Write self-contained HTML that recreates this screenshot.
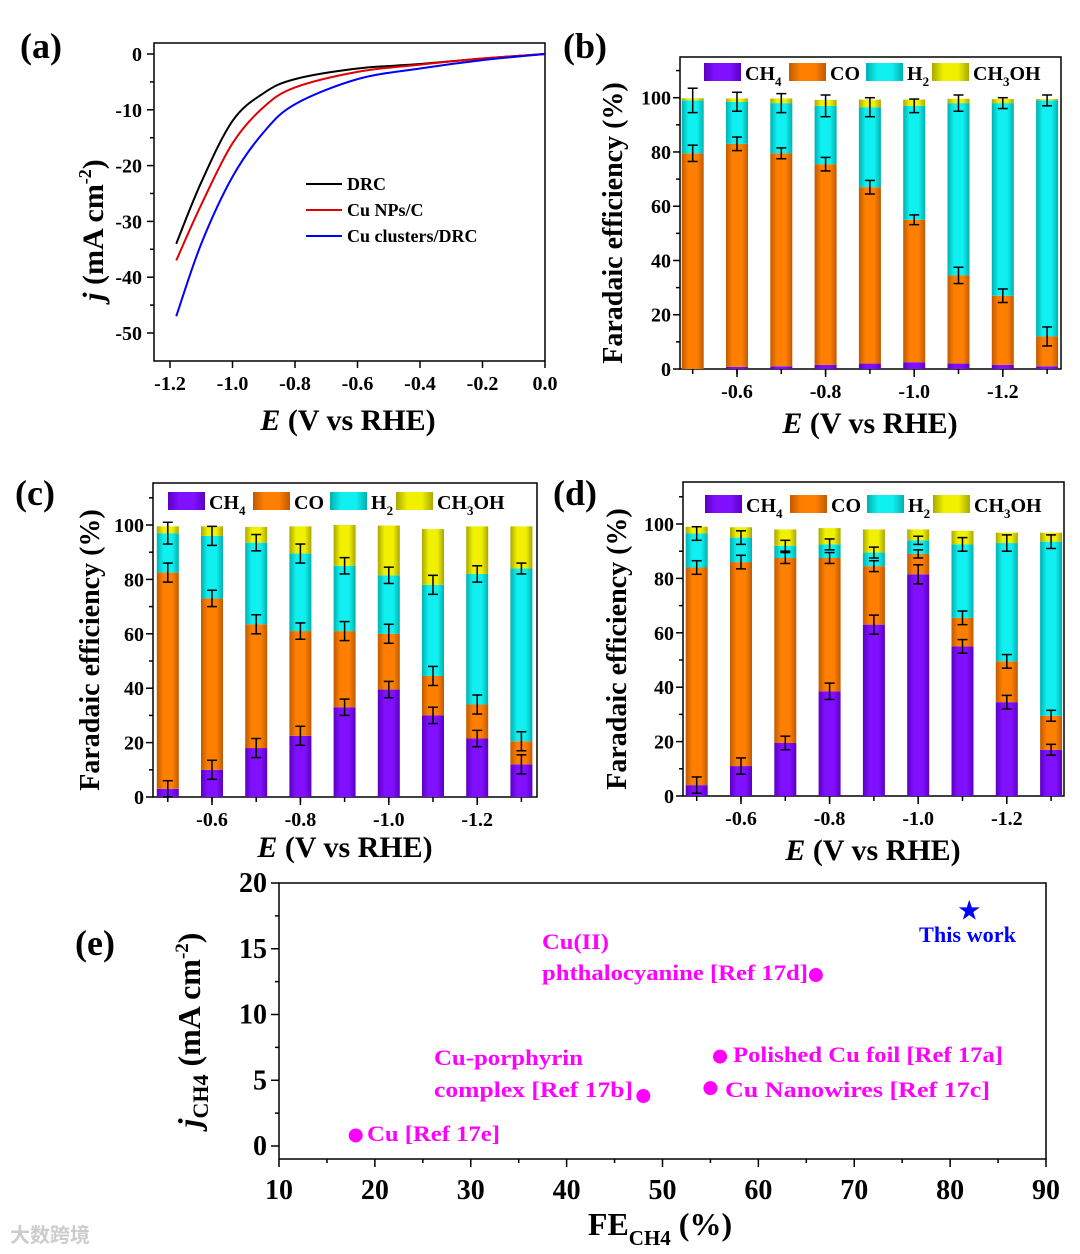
<!DOCTYPE html>
<html><head><meta charset="utf-8"><style>
html,body{margin:0;padding:0;background:#fff;}
svg{display:block;font-family:"Liberation Serif",serif;font-weight:bold;}
</style></head><body>
<svg id="fig" width="1080" height="1254" viewBox="0 0 1080 1254">
<defs>
<linearGradient id="gCH4" x1="0" x2="1"><stop offset="0" stop-color="#5a00c0"/><stop offset="0.3" stop-color="#8010ff"/><stop offset="0.7" stop-color="#8010ff"/><stop offset="1" stop-color="#5a00c0"/></linearGradient>
<linearGradient id="gCO" x1="0" x2="1"><stop offset="0" stop-color="#c05a00"/><stop offset="0.3" stop-color="#ff7f00"/><stop offset="0.7" stop-color="#ff7f00"/><stop offset="1" stop-color="#c05a00"/></linearGradient>
<linearGradient id="gH2" x1="0" x2="1"><stop offset="0" stop-color="#00b0b0"/><stop offset="0.3" stop-color="#10f0f0"/><stop offset="0.7" stop-color="#10f0f0"/><stop offset="1" stop-color="#00b0b0"/></linearGradient>
<linearGradient id="gMe" x1="0" x2="1"><stop offset="0" stop-color="#a8a800"/><stop offset="0.3" stop-color="#f0f000"/><stop offset="0.7" stop-color="#f0f000"/><stop offset="1" stop-color="#a8a800"/></linearGradient>
</defs>
<g id="layer"></g>
</svg>
<script>
// ---------- Panel (a) data ----------
const aE = [0, -0.2, -0.4, -0.6, -0.8, -0.9, -1.0, -1.1, -1.18];
const aDRC = [0, -0.8, -1.8, -2.6, -4.5, -7, -12, -23, -34];
const aCuNP = [0, -0.8, -1.9, -3.2, -6, -9.5, -16, -27, -37];
const aCluster = [0, -1.1, -2.6, -4.5, -9, -14, -22, -34, -47];
const aXTicks = [-1.2, -1.0, -0.8, -0.6, -0.4, -0.2, 0.0];
const aYTicks = [0, -10, -20, -30, -40, -50];
// ---------- Panels (b)(c)(d) data ----------
const barE = [-0.5, -0.6, -0.7, -0.8, -0.9, -1.0, -1.1, -1.2, -1.3];
const barXTicks = [-0.6, -0.8, -1.0, -1.2];
const barYTicks = [0, 20, 40, 60, 80, 100];
const bCH4 = [0, 0.8, 1, 1.5, 2, 2.5, 2, 1.5, 1];
const bCO = [79.5, 82.2, 78.5, 74, 65, 52.5, 32.5, 25.5, 11];
const bH2 = [19.5, 15.5, 18.5, 21.5, 29.5, 42, 63.5, 71, 87];
const bMeOH = [0.8, 1.2, 1.7, 2.2, 2.8, 2.3, 1.6, 1.5, 0.5];
const bErrCH4 = [0, 0, 0, 0, 0, 0, 0, 0, 0];
const bErrCO = [3, 2.5, 2, 2.5, 2.5, 1.8, 3, 2.5, 3.5];
const bErrH2 = [4.5, 3.5, 3.5, 4, 3.5, 2.5, 3, 2, 2];
const cCH4 = [3, 10, 18, 22.5, 33, 39.5, 30, 21.5, 12];
const cCO = [79.5, 63, 45.5, 38.5, 28, 20.5, 14.5, 12.5, 8.5];
const cH2 = [14.5, 23, 30, 28.5, 24, 21.5, 33.5, 48, 63.5];
const cMeOH = [2.5, 3.5, 5.8, 10, 15, 18.3, 20.5, 17.5, 15.5];
const cErrCH4 = [3, 3.5, 3.5, 3.5, 3, 3, 3, 3, 3.5];
const cErrCO = [3.5, 3, 3.5, 3, 3.5, 3.5, 3.5, 3.5, 3.5];
const cErrH2 = [4, 3.5, 3, 3.5, 3, 3, 3.5, 3, 2];
const dCH4 = [4, 11, 19.5, 38.5, 63, 81.5, 55, 34.5, 17];
const dCO = [80, 75, 68, 49, 21.5, 7.5, 10.5, 15, 12.5];
const dH2 = [12.5, 9, 4.5, 5, 5, 5, 27, 43.5, 64];
const dMeOH = [2.5, 3.8, 6, 6, 8.5, 4, 5, 3.8, 3.3];
const dErrCH4 = [3, 3, 2.5, 3, 3.5, 3.5, 2.5, 2.5, 2];
const dErrCO = [2.5, 2.5, 2, 2, 2, 1.5, 2.5, 2.5, 2];
const dErrH2 = [2.5, 2.5, 2, 2, 2, 1.5, 2.5, 3, 2.5];
// ---------- Panel (e) data ----------
const eFE = [18, 48, 55, 56, 66];
const eJ = [0.8, 3.8, 4.4, 6.8, 13];
const eStarFE = [82];
const eStarJ = [18];
const eXTicks = [10, 20, 30, 40, 50, 60, 70, 80, 90];
const eYTicks = [0, 5, 10, 15, 20];

const NS = "http://www.w3.org/2000/svg";
const layer = document.getElementById('layer');
function mk(tag, attrs, parent, txt) {
  const el = document.createElementNS(NS, tag);
  for (const k in attrs) el.setAttribute(k, attrs[k]);
  if (txt !== undefined) el.textContent = txt;
  (parent || layer).appendChild(el);
  return el;
}
function grp(name) {
  const g = mk('g', {});
  
  
  return g;
}
function label(g, x, y, s, txt, anchor, name, extra) {
  const t = mk('text', Object.assign({x: x, y: y, 'font-size': s, 'text-anchor': anchor || 'middle', fill: '#000'}, extra || {}), g, txt);
  
  
  return t;
}
function line(g, x1, y1, x2, y2, c, w) { return mk('line', {x1, y1, x2, y2, stroke: c || '#000', 'stroke-width': w || 1.5}, g); }

// panel labels
const pl = grp('panel-labels');
[['(a)', 20, 58], ['(b)', 563, 58], ['(c)', 15, 505], ['(d)', 553, 505], ['(e)', 75, 955]].forEach(p => {
  label(pl, p[1], p[2], 36, p[0], 'start', 'panel-label-' + p[0][1]);
});

// ---------- Panel (a) ----------
(function () {
  const g = grp('panel-a-lsv-chart');
  const L = 154, R = 545, T = 43, B = 361;
  const xs = e => 545 + e * 312.5;
  const ys = j => 54 - j * 5.58;
  const frame = mk('rect', {x: L, y: T, width: R - L, height: B - T, fill: 'none', stroke: '#000', 'stroke-width': 1.5}, g);
  
  
  aXTicks.forEach(v => { line(g, xs(v), B, xs(v), B + 7); label(g, xs(v), B + 29, 20, v.toFixed(1), 'middle', 'x-tick-a'); });
  for (let v = -1.1; v > -0.05; v += 0.2) line(g, xs(v), B, xs(v), B + 4);
  aYTicks.forEach(v => { line(g, L, ys(v), L - 7, ys(v)); label(g, L - 12, ys(v) + 7, 20, String(v), 'end', 'y-tick-a'); });
  for (let v = -5; v > -55; v -= 10) line(g, L, ys(v), L - 4, ys(v));
  function smooth(xsA, ysA) {
    const p = xsA.map((e, i) => [xs(e), ys(ysA[i])]);
    let d = 'M' + p[0][0] + ',' + p[0][1];
    for (let i = 0; i < p.length - 1; i++) {
      const p0 = p[Math.max(0, i - 1)], p1 = p[i], p2 = p[i + 1], p3 = p[Math.min(p.length - 1, i + 2)];
      const c1 = [p1[0] + (p2[0] - p0[0]) / 6, p1[1] + (p2[1] - p0[1]) / 6];
      const c2 = [p2[0] - (p3[0] - p1[0]) / 6, p2[1] - (p3[1] - p1[1]) / 6];
      d += ' C' + c1 + ' ' + c2 + ' ' + p2;
    }
    return d;
  }
  const series = [[aDRC, '#000', 'DRC'], [aCuNP, '#e00000', 'Cu NPs/C'], [aCluster, '#0000ff', 'Cu clusters/DRC']];
  series.forEach((s, i) => {
    const p = mk('path', {d: smooth(aE, s[0]), fill: 'none', stroke: s[1], 'stroke-width': 2}, g);
    
    
    const ly = 184 + i * 26;
    line(g, 306, ly, 342, ly, s[1], 2);
    label(g, 347, ly + 6, 18, s[2], 'start', 'legend-entry-a');
  });
  const yt = mk('text', {x: 0, y: 0, 'font-size': 30, 'text-anchor': 'middle', transform: 'translate(103,230) rotate(-90)'}, g);
  
  
  mk('tspan', {'font-style': 'italic'}, yt, 'j');
  mk('tspan', {}, yt, ' (mA cm');
  mk('tspan', {dy: -12, 'font-size': 18}, yt, '-2');
  mk('tspan', {dy: 12}, yt, ')');
  const xt = mk('text', {x: 348, y: 430, 'font-size': 30, 'text-anchor': 'middle'}, g);
  
  
  mk('tspan', {'font-style': 'italic'}, xt, 'E');
  mk('tspan', {}, xt, ' (V vs RHE)');
})();

// ---------- stacked bar panels ----------
function barPanel(name, box, ch4, co, h2, me, eCH4, eCO, eH2, titleX, titleCx, titleY) {
  const g = grp(name);
  const L = box.L, R = box.R, T = box.T, B = box.B;
  const ys = v => B - v * (B - box.y100) / 100;
  const xs = e => box.x06 + (-0.6 - e) / 0.1 * box.step;
  const frame = mk('rect', {x: L, y: T, width: R - L, height: B - T, fill: 'none', stroke: '#000', 'stroke-width': 1.5}, g);
  
  
  const bw = 22;
  barE.forEach((e, i) => {
    const x = xs(e) - bw / 2;
    let base = 0;
    const segs = [[ch4[i], 'gCH4', 'ch4'], [co[i], 'gCO', 'co'], [h2[i], 'gH2', 'h2'], [me[i], 'gMe', 'ch3oh']];
    segs.forEach(s => {
      const r = mk('rect', {x: x, y: ys(base + s[0]), width: bw, height: ys(base) - ys(base + s[0]), fill: 'url(#' + s[1] + ')'}, g);
      
      
      base += s[0];
    });
    const tops = [[ch4[i], eCH4[i]], [ch4[i] + co[i], eCO[i]], [ch4[i] + co[i] + h2[i], eH2[i]]];
    tops.forEach(t => {
      if (t[1] <= 0) return;
      const cx = xs(e);
      line(g, cx, ys(t[0] - t[1]), cx, ys(t[0] + t[1]), '#000', 1.5);
      line(g, cx - 5, ys(t[0] - t[1]), cx + 5, ys(t[0] - t[1]), '#000', 1.5);
      line(g, cx - 5, ys(t[0] + t[1]), cx + 5, ys(t[0] + t[1]), '#000', 1.5);
    });
  });
  barE.forEach(e => line(g, xs(e), B, xs(e), B + 5));
  barXTicks.forEach(v => { line(g, xs(v), B, xs(v), B + 8); label(g, xs(v), B + 29, 20, v.toFixed(1), 'middle', 'x-tick'); });
  barYTicks.forEach(v => { line(g, L, ys(v), L - 7, ys(v)); label(g, L - 9, ys(v) + 7, 20, String(v), 'end', 'y-tick'); });
  for (let v = 10; v <= 110; v += 20) line(g, L, ys(v), L - 4, ys(v));
  const lx = box.legX, ly = box.legY;
  const items = [['gCH4', 'CH', '4', '', 0], ['gCO', 'CO', '', '', 85], ['gH2', 'H', '2', '', 162], ['gMe', 'CH', '3', 'OH', 228]];
  items.forEach(it => {
    const r = mk('rect', {x: lx + it[4], y: ly, width: 37, height: 18, fill: 'url(#' + it[0] + ')'}, g);
    
    
    const t = mk('text', {x: lx + it[4] + 41, y: ly + 17, 'font-size': 20}, g);
    
    
    mk('tspan', {}, t, it[1]);
    if (it[2]) mk('tspan', {dy: 6, 'font-size': 13}, t, it[2]);
    if (it[3]) mk('tspan', {dy: -6}, t, it[3]);
  });
  label(g, 0, 0, 28, 'Faradaic efficiency (%)', 'middle', name + '-y-axis-title', {transform: 'translate(' + titleX + ',' + ((T + B) / 2 + 10) + ') rotate(-90)'});
  const xt = mk('text', {x: titleCx, y: titleY, 'font-size': 30, 'text-anchor': 'middle'}, g);
  
  
  mk('tspan', {'font-style': 'italic'}, xt, 'E');
  mk('tspan', {}, xt, ' (V vs RHE)');
}
barPanel('panel-b-fe-chart', {L: 680, R: 1061, T: 57, B: 369, y100: 97.7, x06: 737, step: 44.3, legX: 704, legY: 63}, bCH4, bCO, bH2, bMeOH, bErrCH4, bErrCO, bErrH2, 622, 870, 433);
barPanel('panel-c-fe-chart', {L: 153, R: 537, T: 483, B: 797, y100: 525, x06: 212, step: 44.2, legX: 168, legY: 492}, cCH4, cCO, cH2, cMeOH, cErrCH4, cErrCO, cErrH2, 99, 345, 857);
barPanel('panel-d-fe-chart', {L: 683, R: 1064, T: 482, B: 796, y100: 524, x06: 741, step: 44.3, legX: 705, legY: 495}, dCH4, dCO, dH2, dMeOH, dErrCH4, dErrCO, dErrH2, 626, 873, 860);

// ---------- Panel (e) ----------
(function () {
  const g = grp('panel-e-scatter-chart');
  const L = 279, R = 1046, T = 883, B = 1159;
  const xs = v => L + (v - 10) * (R - L) / 80;
  const ys = v => 1146 - v * 13.15;
  const frame = mk('rect', {x: L, y: T, width: R - L, height: B - T, fill: 'none', stroke: '#000', 'stroke-width': 1.5}, g);
  
  
  eXTicks.forEach(v => { line(g, xs(v), B, xs(v), B + 8); label(g, xs(v), B + 40, 28, String(v), 'middle', 'x-tick-e'); });
  for (let v = 15; v < 90; v += 10) line(g, xs(v), B, xs(v), B + 4);
  eYTicks.forEach(v => { line(g, L, ys(v), L - 8, ys(v)); label(g, L - 12, ys(v) + 9, 28, String(v), 'end', 'y-tick-e'); });
  for (let v = 2.5; v < 20; v += 5) line(g, L, ys(v), L - 4, ys(v));
  eFE.forEach((v, i) => {
    const c = mk('circle', {cx: xs(v), cy: ys(eJ[i]), r: 7, fill: '#ff00ff'}, g);
    
    
  });
  eStarFE.forEach((v, i) => {
    const s = mk('text', {x: xs(v), y: ys(eStarJ[i]) + 9, 'font-size': 24, 'text-anchor': 'middle', fill: '#0000ff'}, g, '★');
    
    
  });
  function ml(x, y, txt, w, name, col) {
    label(g, x, y, 22, txt, 'start', name, {fill: col || '#ff00ff', textLength: w, lengthAdjust: 'spacingAndGlyphs'});
  }
  ml(542, 949, 'Cu(II)', 67, 'label-cu-ii');
  ml(542, 980, 'phthalocyanine [Ref 17d]', 266, 'label-phthalocyanine');
  ml(434, 1065, 'Cu-porphyrin', 149, 'label-cu-porphyrin');
  ml(434, 1097, 'complex  [Ref 17b]', 199, 'label-complex');
  ml(733, 1062, 'Polished Cu foil [Ref 17a]', 270, 'label-polished-cu');
  ml(725, 1097, 'Cu Nanowires    [Ref 17c]', 265, 'label-cu-nanowires');
  ml(367, 1141, 'Cu [Ref 17e]', 133, 'label-cu-17e');
  ml(919, 942, 'This work', 97, 'label-this-work', '#0000ff');
  const yt = mk('text', {x: 0, y: 0, 'font-size': 32, 'text-anchor': 'middle', transform: 'translate(200,1030) rotate(-90)'}, g);
  
  
  mk('tspan', {'font-style': 'italic'}, yt, 'j');
  mk('tspan', {dy: 8, 'font-size': 22}, yt, 'CH4');
  mk('tspan', {dy: -8}, yt, ' (mA cm');
  mk('tspan', {dy: -12, 'font-size': 19}, yt, '-2');
  mk('tspan', {dy: 12}, yt, ')');
  const xt = mk('text', {x: 660, y: 1235, 'font-size': 32, 'text-anchor': 'middle'}, g);
  
  
  mk('tspan', {}, xt, 'FE');
  mk('tspan', {dy: 10, 'font-size': 21}, xt, 'CH4');
  mk('tspan', {dy: -10}, xt, ' (%)');
})();
const wm = mk('text', {x: 10, y: 1242, 'font-size': 20, fill: '#cccccc', 'font-family': '"Noto Sans CJK SC", sans-serif'}, layer, '大数跨境');


</script>
</body></html>
